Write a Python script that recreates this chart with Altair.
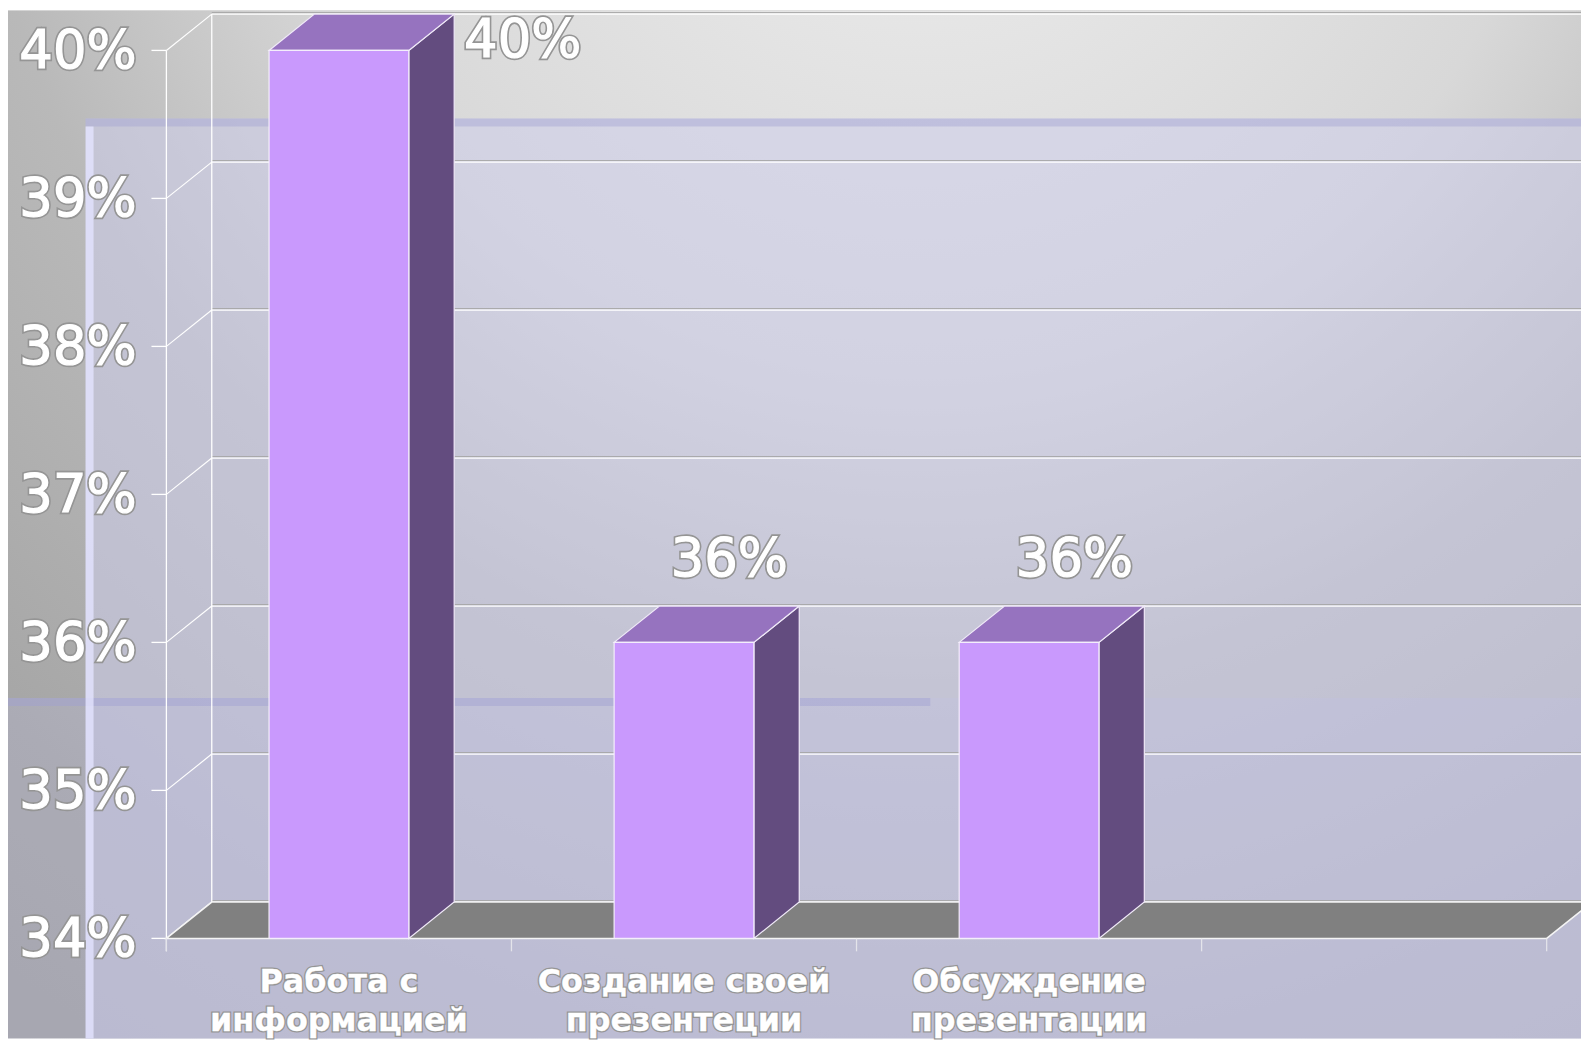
import altair as alt
import pandas as pd

# ---------------- data ----------------
categories = ["Работа с\nинформацией", "Создание своей\nпрезентеции", "Обсуждение\nпрезентации"]
values = [40, 36, 36]
value_labels = ["40%", "36%", "36%"]
n_slots = 4
y_ticks = [34, 35, 36, 37, 38, 39, 40]
y_tick_labels = ["34%", "35%", "36%", "37%", "38%", "39%", "40%"]

# ---------------- layout ----------------
W, H = 1581, 1033
X_RANGE = [159.2, 1546.5]
Y_RANGE = [932.5, 40.0]
Y_MIN, Y_MAX = 34, 40
px_x = (X_RANGE[1] - X_RANGE[0]) / n_slots
px_y = (Y_RANGE[0] - Y_RANGE[1]) / (Y_MAX - Y_MIN)
DX = 45.6 / px_x
DY = 36.5 / px_y
BAR_W = 0.405

FONT = "DejaVu Sans"
FRONT = "#c999fd"
TOP = "#9673bf"
SIDE = "#634c7f"
FLOOR = "#808080"

xs = alt.Scale(domain=[0, n_slots], range=X_RANGE, nice=False, zero=False)
ys = alt.Scale(domain=[Y_MIN, Y_MAX], range=Y_RANGE, nice=False, zero=False)


def X(f):
    return alt.X(f, type="quantitative", scale=xs, axis=None)


def Y(f):
    return alt.Y(f, type="quantitative", scale=ys, axis=None)


one = pd.DataFrame({"k": [0]})


def rgrad(stops, cx, cy, r):
    return {"gradient": "radial", "x1": cx, "y1": cy, "r1": 0, "x2": cx, "y2": cy, "r2": r,
            "stops": [{"offset": o, "color": c} for o, c in stops]}


def deco(x1, x2, y1, y2, fill, opacity=1.0):
    return alt.Chart(one).mark_rect(fill=fill, opacity=opacity).encode(
        x=alt.value(x1), x2=alt.value(x2), y=alt.value(y1), y2=alt.value(y2))


# ---------------- background decoration ----------------
bg = [
    deco(0, W, 0, H, rgrad([(0, "#f0f0f0"), (0.4, "#d8d8d8"), (0.6, "#b9b9b9"),
                            (0.85, "#a6a6a6"), (1, "#a0a0a0")], 0.58, 0.0, 1.0)),
    deco(78, W, 108.5, H, "rgba(205,205,235,0.55)"),
    deco(0, W, 691, H, "rgba(190,190,235,0.22)"),
    deco(0, 927, 691, 699, "rgba(160,160,210,0.45)"),
    deco(78, W, 108.5, 116.5, "rgba(165,165,210,0.45)"),
    deco(78, 86, 116.5, H, "rgba(228,228,255,0.8)"),
]

# ---------------- frame (walls, grid, floor) ----------------
grid_df = pd.DataFrame({"x": [DX] * len(y_ticks), "x2": [n_slots + DX] * len(y_ticks),
                        "y": [t + DY for t in y_ticks]})
grid_shadow = alt.Chart(grid_df).mark_rule(color="#a6a6a6", strokeWidth=1, yOffset=-1.5).encode(
    x=X("x"), x2="x2", y=Y("y"))
grid = alt.Chart(grid_df).mark_rule(color="#ffffff", strokeWidth=1.4).encode(
    x=X("x"), x2="x2", y=Y("y"))

diag_df = pd.DataFrame({"x": [0.0] * len(y_ticks), "x2": [DX] * len(y_ticks),
                        "y": y_ticks, "y2": [t + DY for t in y_ticks]})
diag = alt.Chart(diag_df).mark_rule(color="#ffffff", strokeWidth=1.2).encode(
    x=X("x"), x2="x2", y=Y("y"), y2="y2")

vert_df = pd.DataFrame({"x": [0.0, DX], "y": [Y_MIN - 13 / px_y, Y_MIN + DY], "y2": [Y_MAX, Y_MAX + DY]})
vert = alt.Chart(vert_df).mark_rule(color="#ffffff", strokeWidth=1.3).encode(
    x=X("x"), y=Y("y"), y2="y2")

ytick_df = pd.DataFrame({"x": [-15 / px_x] * len(y_ticks), "x2": [0.0] * len(y_ticks), "y": y_ticks})
yticks = alt.Chart(ytick_df).mark_rule(color="#ffffff", strokeWidth=1.3).encode(
    x=X("x"), x2="x2", y=Y("y"))

xtick_df = pd.DataFrame({"x": list(range(n_slots + 1)), "y": [Y_MIN] * (n_slots + 1),
                         "y2": [Y_MIN - 13 / px_y] * (n_slots + 1)})
xticks = alt.Chart(xtick_df).mark_rule(color="#e4e4ea", strokeWidth=1.3).encode(
    x=X("x"), y=Y("y"), y2="y2")

floor_df = pd.DataFrame({
    "x": [0.0, DX, n_slots, n_slots + DX],
    "y": [Y_MIN, Y_MIN + DY, Y_MIN + DY, Y_MIN + DY],
    "y2": [Y_MIN, Y_MIN, Y_MIN, Y_MIN + DY],
})
floor = alt.Chart(floor_df).mark_area(fill=FLOOR, stroke="#f4f4f4", strokeWidth=1.5, interpolate="linear").encode(
    x=X("x"), y=Y("y"), y2="y2")

# ---------------- bars ----------------
front_rows, top_rows, side_rows = [], [], []
for i, v in enumerate(values):
    c = i + 0.5
    l, r = c - BAR_W / 2, c + BAR_W / 2
    front_rows.append({"bar": i, "x": l, "x2": r, "y": Y_MIN, "y2": v})
    top_rows += [
        {"bar": i, "x": l, "y": v, "y2": v},
        {"bar": i, "x": l + DX, "y": v + DY, "y2": v},
        {"bar": i, "x": r, "y": v + DY, "y2": v},
        {"bar": i, "x": r + DX, "y": v + DY, "y2": v + DY},
    ]
    side_rows += [
        {"bar": i, "x": r, "y": v, "y2": Y_MIN},
        {"bar": i, "x": r + DX, "y": v + DY, "y2": Y_MIN + DY},
    ]

side = alt.Chart(pd.DataFrame(side_rows)).mark_area(fill=SIDE, stroke="#f0eaf8", strokeWidth=1.2,
                                                    interpolate="linear").encode(
    x=X("x"), y=Y("y"), y2="y2", detail="bar:N")
top = alt.Chart(pd.DataFrame(top_rows)).mark_area(fill=TOP, stroke="#f0eaf8", strokeWidth=1.2,
                                                  interpolate="linear").encode(
    x=X("x"), y=Y("y"), y2="y2", detail="bar:N")
front = alt.Chart(pd.DataFrame(front_rows)).mark_rect(fill=FRONT, stroke="#f4eefc", strokeWidth=1.2).encode(
    x=X("x"), x2="x2", y=Y("y"), y2="y2")

# ---------------- texts ----------------
def outlined(chart_fn, outer=4.5, inner=1.2):
    return [chart_fn(dict(stroke="#959595", strokeWidth=outer)),
            chart_fn(dict(stroke="#ffffff", strokeWidth=inner))]


ylab_df = pd.DataFrame({"x": [0.0] * len(y_ticks), "y": y_ticks, "t": y_tick_labels})
ylabels = outlined(lambda kw: alt.Chart(ylab_df).mark_text(
    align="right", baseline="middle", dx=-30, dy=2, font=FONT, fontSize=53, fill="#ffffff", **kw).encode(
    x=X("x"), y=Y("y"), text="t:N"))

cat_df = pd.DataFrame({"x": [i + 0.5 for i in range(len(categories))], "y": [Y_MIN] * len(categories),
                       "t": categories})
catlabels = outlined(lambda kw: alt.Chart(cat_df).mark_text(
    align="center", baseline="alphabetic", dy=53.5, lineBreak="\n", lineHeight=40,
    font=FONT, fontWeight="bold", fontSize=32, fill="#ffffff", **kw).encode(
    x=X("x"), y=Y("y"), text="t:N"), outer=3, inner=0.3)

# value labels: above the bar top; if that would leave the plot, put it to the right of the bar
vl_top, vl_side = [], []
for i, (v, s) in enumerate(zip(values, value_labels)):
    c = i + 0.5
    if v + DY + 70 / px_y > Y_MAX + DY:
        vl_side.append({"x": c + BAR_W / 2 + DX, "y": v + DY, "t": s})
    else:
        vl_top.append({"x": c + DX, "y": v + DY, "t": s})

vtop = outlined(lambda kw: alt.Chart(pd.DataFrame(vl_top)).mark_text(
    align="center", baseline="middle", dy=-46, font=FONT, fontSize=53, fill="#ffffff", **kw).encode(
    x=X("x"), y=Y("y"), text="t:N"))
vside = outlined(lambda kw: alt.Chart(pd.DataFrame(vl_side)).mark_text(
    align="left", baseline="middle", dx=10, dy=27, font=FONT, fontSize=53, fill="#ffffff", **kw).encode(
    x=X("x"), y=Y("y"), text="t:N"))

layers = bg + [grid_shadow, grid, diag, vert, yticks, floor, xticks, side, top, front] + ylabels + catlabels + vtop + vside

chart = alt.layer(*layers).properties(
    width=W, height=H, padding=0, autosize=alt.AutoSizeParams(type="none"),
).configure_view(stroke=None, fill=None)

chart.save("out.html", embed_options={"renderer": "svg", "actions": False})
